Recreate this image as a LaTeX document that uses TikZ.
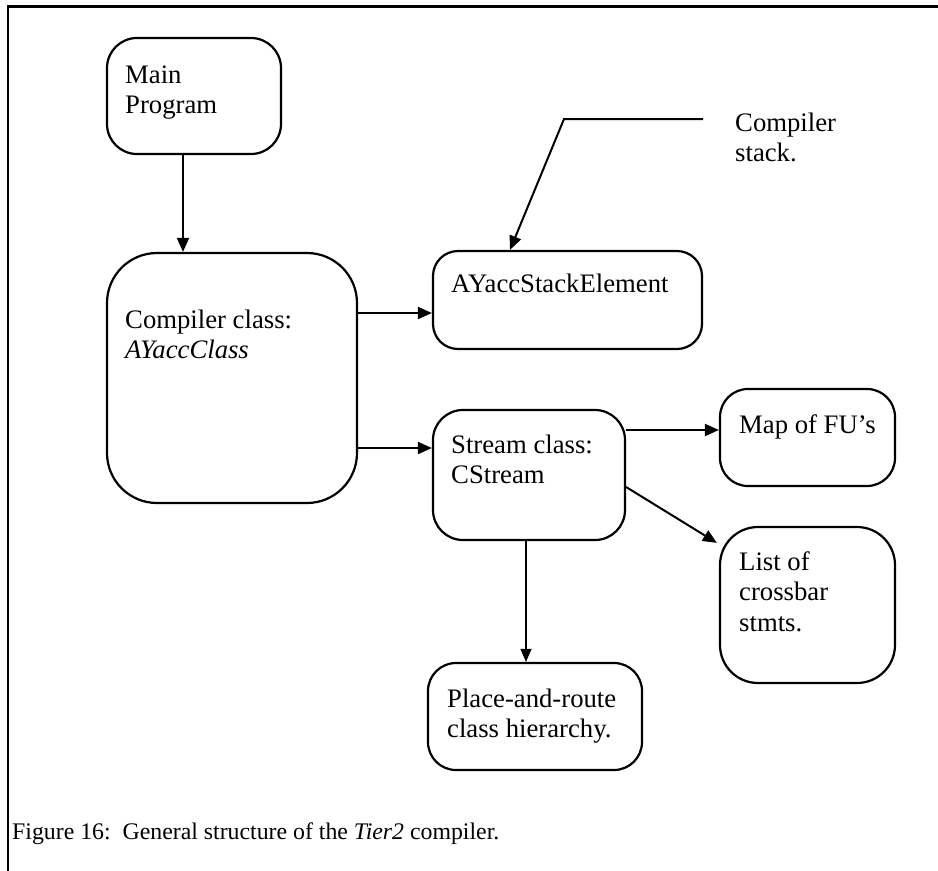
\documentclass[tikz,border=0pt]{standalone}
\usepackage{fontspec}
\setmainfont{Liberation Serif}
\usetikzlibrary{arrows.meta,calc}
\begin{document}
\begin{tikzpicture}[x=1pt,y=-1pt,
  box/.style={draw,line width=2.2pt,rounded corners=#1,inner sep=0pt},
  % multi-line labels are anchored at the baseline of their last line
  lbl/.style={anchor=base west,inner sep=0pt,align=left,font=\fontsize{26.7}{30.5}\selectfont},
  captext/.style={anchor=base west,inner sep=0pt,font=\fontsize{23.8}{28}\selectfont},
  arr/.style={line width=2pt,-{Triangle[length=14pt,width=12pt]}},
  thinarr/.style={line width=1.2pt,-{Triangle[length=13pt,width=11pt]}}]
\useasboundingbox (0,0) rectangle (938,871);
\fill[white] (0,0) rectangle (938,871);
% frame
\draw[line width=2.8pt] (8,871) -- (8,6.5) -- (938,6.5);

% boxes
\node[box=30pt,minimum width=174pt,minimum height=116pt] (main)   at (194,96) {};
\node[box=50pt,minimum width=250pt,minimum height=250pt] (comp)   at (232,378) {};
\node[box=25pt,minimum width=269pt,minimum height=98pt]  (stack)  at (567.5,300) {};
\node[box=30pt,minimum width=192pt,minimum height=130pt] (stream) at (529,475) {};
\node[box=28pt,minimum width=175pt,minimum height=97pt]  (map)    at (807.5,437.5) {};
\node[box=38pt,minimum width=175pt,minimum height=156pt] (list)   at (807.5,605) {};
\node[box=28pt,minimum width=214pt,minimum height=107pt] (place)  at (535,716.5) {};

% box texts
\node[lbl] (mainT)   at (125,113.5) {Main\\Program};
\node[lbl] (compT)   at (125,358.5) {Compiler class:\\\textit{AYaccClass}};
\node[lbl] (stackT)  at (451,292)   {AYaccStackElement};
\node[lbl] (streamT) at (451,483.5) {Stream class:\\CStream};
\node[lbl] (mapT)    at (739,433)   {Map of FU’s};
\node[lbl] (listT)   at (739,631)   {List of\\crossbar\\stmts.};
\node[lbl] (placeT)  at (447,737.5) {Place-and-route\\class hierarchy.};
\node[lbl] (stackN)  at (735,161.5) {Compiler\\stack.};

% connectors
\draw[arr] (main.south -| 183,0) -- (comp.north -| 183,0);
\draw[arr] (comp.east |- 0,313) -- (stack.west |- 0,313);
\draw[arr] (comp.east |- 0,448) -- (stream.west |- 0,448);
\draw[arr] (stream.east |- 0,430) -- (map.west |- 0,430);
\draw[arr] (stream.east |- 0,487) -- ($(list.north west)+(-2,17)$);
\draw[thinarr] (stream.south -| 526,0) -- (place.north -| 526,0);

% callout for the compiler stack
\coordinate (calloutEnd) at (703,119);
\coordinate (calloutBend) at (564,119);
\draw[arr] (calloutEnd) -- (calloutBend) -- (stack.north -| 510,0);

% caption
\node[captext] (caption) at (12,839) {Figure 16:\ \ General structure of the \textit{Tier2} compiler.};
\end{tikzpicture}
\end{document}
